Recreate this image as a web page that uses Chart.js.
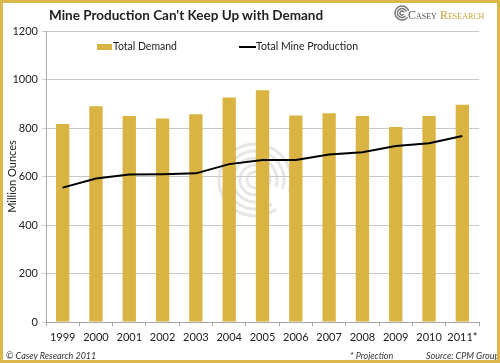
<!DOCTYPE html>
<html>
<head>
<meta charset="utf-8">
<script src="https://cdn.jsdelivr.net/npm/chart.js@4"></script>
<style>
  html, body { margin: 0; padding: 0; background: #fff; }
  #wrap { position: relative; width: 500px; height: 363px; box-sizing: border-box; border: 3px solid #dcb84c; overflow: hidden; }
  #myChart { position: absolute; left: -3px; top: -3px; }
  .txt { position: absolute; font-family: Lato, "Open Sans", sans-serif; color: #222; white-space: nowrap; }
  #title { left: 46px; top: 4px; font-size: 13.5px; font-weight: bold; }
  #logo { left: 393px; top: 5px; font-family: "Liberation Serif", serif; font-size: 12px; font-variant: small-caps; color: #555; }
  #logo span { color: #c9a23c; }
  .foot { font-size: 9px; font-style: italic; top: 347px; color: #333; }
</style>
</head>
<body>
<div id="wrap">
  <canvas id="myChart" width="500" height="363"></canvas>
  <div class="txt" id="title">Mine Production Can't Keep Up with Demand</div>
  <div class="txt" id="logo">&nbsp;&nbsp;&nbsp;&nbsp;Casey <span>Research</span></div>
  <div class="txt foot" style="left:3px">© Casey Research 2011</div>
  <div class="txt foot" style="left:347px">* Projection</div>
  <div class="txt foot" style="left:423px">Source: CPM Group</div>
</div>
<script>
// Chart data
const years = ['1999', '2000', '2001', '2002', '2003', '2004', '2005', '2006', '2007', '2008', '2009', '2010', '2011*'];
const totalDemand = [816, 890, 850, 839, 857, 926, 956, 852, 861, 850, 804, 849, 896];
const mineProduction = [554, 592, 608, 609, 613, 651, 668, 668, 691, 700, 726, 737, 767];
const yTicks = [0, 200, 400, 600, 800, 1000, 1200];

const gold = '#dab443';

// watermark spiral, legend inside the plot, logo mark
const decor = {
    id: 'decor',
    beforeDatasetsDraw(chart) {
        const c = chart.ctx;
        c.save();
        c.strokeStyle = 'rgba(200,200,200,0.45)';
        c.lineWidth = 3;
        for (let r = 8; r <= 36; r += 7) {
            c.beginPath();
            c.arc(255, 180, r, 0.3 * Math.PI, 2.1 * Math.PI);
            c.stroke();
        }
        c.restore();
    },
    afterDraw(chart) {
        const c = chart.ctx;
        const bars = chart.data.datasets[1];
        const line = chart.data.datasets[0];
        c.save();
        c.font = '10.5px Lato, "Open Sans", sans-serif';
        c.textBaseline = 'middle';
        // bar legend
        c.fillStyle = gold;
        c.fillRect(97, 44, 15, 6);
        c.fillStyle = '#222';
        c.fillText(bars.label, 113, 47);
        // line legend
        c.strokeStyle = '#000';
        c.lineWidth = 2;
        c.beginPath();
        c.moveTo(239, 47);
        c.lineTo(256, 47);
        c.stroke();
        c.fillText(line.label, 256, 47);
        // logo mark
        c.strokeStyle = '#777';
        c.lineWidth = 1.5;
        for (let r = 2; r <= 7; r += 2.5) {
            c.beginPath();
            c.arc(402, 13, r, 0.2 * Math.PI, 1.9 * Math.PI);
            c.stroke();
        }
        c.restore();
    }
};

const ctx = document.getElementById('myChart').getContext('2d');
let myChart = new Chart(ctx, {
    data: {
        labels: years,
        datasets: [{
            type: 'line',
            label: 'Total Mine Production',
            data: mineProduction,
            borderColor: '#000',
            borderWidth: 2,
            pointRadius: 0,
            tension: 0,
            order: 0
        }, {
            type: 'bar',
            label: 'Total Demand',
            data: totalDemand,
            backgroundColor: gold,
            barPercentage: 0.4,
            categoryPercentage: 1,
            order: 1
        }]
    },
    options: {
        responsive: false,
        animation: false,
        layout: { padding: { top: 31, right: 21, left: 0, bottom: 0 } },
        plugins: {
            legend: { display: false },
            tooltip: { enabled: false }
        },
        scales: {
            x: {
                grid: { display: true, drawOnChartArea: false, color: '#a6a6a6', tickLength: 4, offset: true },
                border: { color: '#a6a6a6' },
                ticks: { color: '#222', font: { family: 'Lato', size: 11 }, padding: 5, maxRotation: 0 },
                afterFit: scale => { scale.height = 41; }
            },
            y: {
                min: 0,
                max: 1200,
                afterBuildTicks: scale => { scale.ticks = yTicks.map(v => ({ value: v })); },
                grid: { color: '#c8c8c8', tickLength: 4 },
                border: { color: '#a6a6a6' },
                ticks: { color: '#222', font: { family: 'Lato', size: 11 }, padding: 4, callback: v => String(v) },
                title: { display: true, text: 'Million Ounces', color: '#222', font: { family: 'Lato', size: 11 }, padding: { top: 6, bottom: 0 } },
                afterFit: scale => { scale.width = 46; }
            }
        }
    },
    plugins: [decor]
});
</script>
</body>
</html>
